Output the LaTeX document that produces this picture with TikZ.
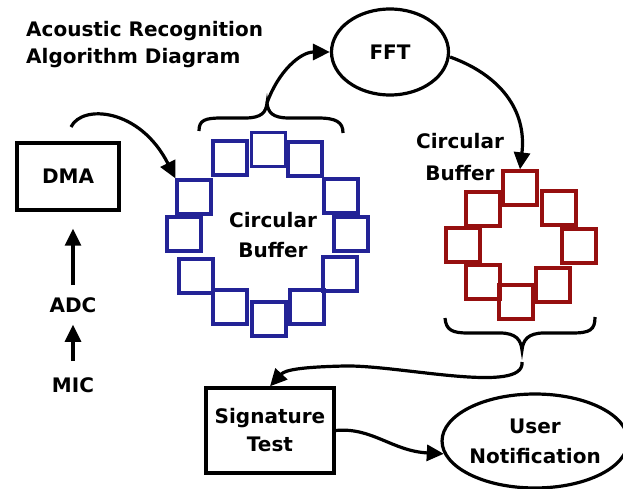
\documentclass[tikz,border=0pt]{standalone}
\usepackage{fontspec}
\setmainfont{DejaVu Sans}
\usetikzlibrary{arrows.meta,shapes.geometric}
\definecolor{bufblue}{RGB}{35,35,150}
\definecolor{bufred}{RGB}{150,15,15}
\tikzset{
  txt/.style={font=\bfseries\fontsize{20}{30}\selectfont, inner sep=0pt, align=center},
  arr/.style={line width=3.2pt, -{Triangle[length=17pt,width=16pt]}},
  boxnode/.style={draw, line width=3.4pt, inner sep=0pt},
  ovalnode/.style={draw, ellipse, line width=3.2pt, inner sep=0pt},
  bsq/.style={draw=bufblue, line width=3.2pt, minimum size=34pt, inner sep=0pt},
  rsq/.style={draw=bufred, line width=3.2pt, minimum size=34pt, inner sep=0pt},
  brace/.style={line width=3.2pt},
}
\begin{document}
\begin{tikzpicture}[x=1pt,y=-1pt]
\useasboundingbox (0,0) rectangle (623,489);
% title
\node[txt, anchor=north west, align=left, font=\bfseries\fontsize{20}{27}\selectfont] (title) at (26,21) {Acoustic Recognition\\Algorithm Diagram};
% left chain
\node[boxnode, minimum width=102pt, minimum height=67pt, txt] (dma) at (68,176.5) {DMA};
\node[txt] (adc) at (73,305) {ADC};
\node[txt] (mic) at (73,385) {MIC};
\draw[arr, shorten <=12pt, shorten >=17pt] (adc.north) -- (adc.north |- dma.south);
\draw[arr, shorten <=16pt, shorten >=12pt] (mic.north) -- (adc.south);
% FFT
\node[ovalnode, minimum width=117pt, minimum height=86pt, txt] (fft) at (390,52) {FFT};
% blue buffer
\node[bsq] (b1) at (268.5,149.5) {};
\node[bsq] (b2) at (230,158) {};
\node[bsq] (b3) at (305,159) {};
\node[bsq] (b4) at (194,197) {};
\node[bsq] (b5) at (341,196) {};
\node[bsq] (b6) at (184,234) {};
\node[bsq] (b7) at (351,234) {};
\node[bsq] (b8) at (196,276) {};
\node[bsq] (b9) at (340,274) {};
\node[bsq] (b10) at (230,307) {};
\node[bsq] (b11) at (307,307) {};
\node[bsq] (b12) at (269,319) {};
\node[txt] (blbl) at (273,235) {Circular\\Buffer};
% red buffer
\node[rsq] (r1) at (520,188) {};
\node[rsq] (r2) at (483,209) {};
\node[rsq] (r3) at (559,208) {};
\node[rsq] (r4) at (463,245) {};
\node[rsq] (r5) at (579,246) {};
\node[rsq] (r6) at (483,282) {};
\node[rsq] (r7) at (553,285) {};
\node[rsq] (r8) at (516,302) {};
\node[txt, font=\bfseries\fontsize{20}{32}\selectfont] (rlbl) at (460,157) {Circular\\Buffer};
% braces
\draw[brace] (199,131) .. controls (199,120) and (205,118) .. (222,118) -- (245,118)
  .. controls (262,118) and (266,112) .. (267,103)
  .. controls (268,112) and (272,118) .. (289,118) -- (318,118)
  .. controls (336,118) and (343,122) .. (343,133);
\coordinate (btip) at (267,103);
\draw[brace] (445,318) .. controls (446,330) and (452,333) .. (468,333) -- (500,333)
  .. controls (516,333) and (521,340) .. (522,350)
  .. controls (523,340) and (528,333) .. (544,333) -- (572,333)
  .. controls (590,333) and (595,330) .. (595,317);
\coordinate (rtip) at (522,362);
% bottom nodes
\node[boxnode, minimum width=128pt, minimum height=85pt, txt, font=\bfseries\fontsize{20}{28}\selectfont] (sig) at (270,430.5) {Signature\\Test};
\node[ovalnode, minimum width=176pt, minimum height=94pt, txt] (user) at (535,441) {User\\Notification};
% connectors
\coordinate (dmaout) at (71,127);
\draw[arr] (dmaout) .. controls (82,104) and (140,108) .. (b4.north west);
\draw[arr] (btip) .. controls (278,72) and (300,52) .. (fft.west);
\draw[arr] (fft.east) ++(0,5) .. controls (500,75) and (527,110) .. (r1.north);
\draw[arr] (rtip) .. controls (525,395) and (400,365) .. (345,366) .. controls (300,367) and (285,370) .. (sig.north);
\draw[arr] (sig.east) .. controls (372,427) and (392,451) .. (user.188);
\end{tikzpicture}
\end{document}
